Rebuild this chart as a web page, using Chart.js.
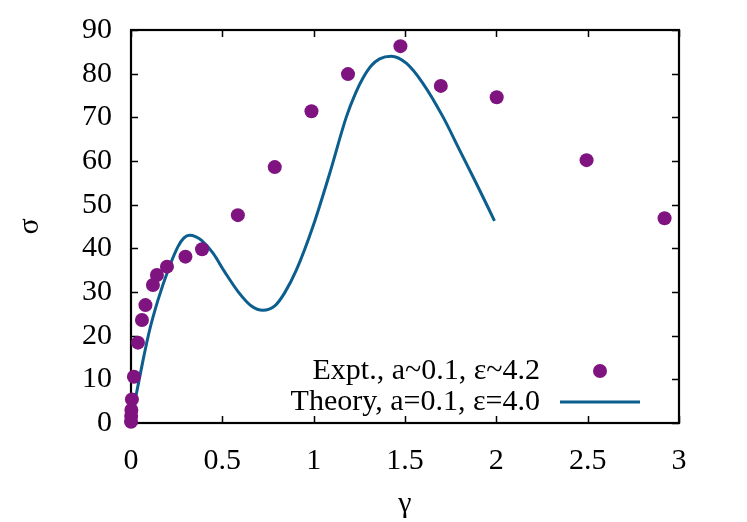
<!DOCTYPE html>
<html>
<head>
<meta charset="utf-8">
<script src="https://cdn.jsdelivr.net/npm/chart.js@4/dist/chart.umd.min.js"></script>
<style>
  html, body { margin: 0; padding: 0; background: #ffffff; }
  canvas { display: block; }
</style>
</head>
<body>
<canvas id="c" width="747" height="522"></canvas>
<script>
// ---- data ----
const exptGamma = [0, 0.001, 0.002, 0.005, 0.016, 0.038, 0.060, 0.079, 0.120, 0.142, 0.197, 0.298, 0.389, 0.585, 0.787, 0.988, 1.188, 1.475, 1.696, 2.002, 2.494, 2.921];
const exptSigma = [0.3, 1.6, 3.0, 5.4, 10.6, 18.4, 23.6, 27.0, 31.6, 33.9, 35.8, 38.1, 39.8, 47.6, 58.6, 71.4, 79.9, 86.3, 77.2, 74.6, 60.2, 46.9];

const theoryGamma = [0, 0.005, 0.030, 0.066, 0.102, 0.148, 0.203, 0.257, 0.290, 0.321, 0.353, 0.385, 0.449, 0.513, 0.586, 0.659, 0.722, 0.787, 0.841, 0.905, 0.996, 1.088, 1.179, 1.230, 1.270, 1.315, 1.361, 1.425, 1.507, 1.598, 1.708, 1.799, 1.890, 1.990];
const theorySigma = [0.5, 1.4, 6.8, 14.4, 21.3, 28.2, 35.0, 40.4, 42.4, 43.0, 42.7, 41.9, 38.9, 34.6, 30.1, 26.8, 25.8, 26.8, 29.8, 35.0, 45.0, 57.2, 70.1, 75.6, 79.0, 81.8, 83.4, 84.0, 82.4, 77.8, 70.1, 62.5, 54.9, 46.3];

const xTickLabels = ['0', '0.5', '1', '1.5', '2', '2.5', '3'];
const yTickLabels = ['0', '10', '20', '30', '40', '50', '60', '70', '80', '90'];

const seriesLabels = ['Expt., a~0.1, \u03b5~4.2', 'Theory, a=0.1, \u03b5=4.0'];
const xTitle = '\u03b3';
const yTitle = '\u03c3';

const FONT = 'Liberation Serif';
const FS = 30;
const PURPLE = '#7f137f';
const BLUE = '#0b5e8d';

const toXY = (xs, ys) => xs.map((x, i) => ({ x: x, y: ys[i] }));

const frameTicks = {
  id: 'frameTicks',
  beforeDatasetsDraw(chart) {
    const { ctx, chartArea: a, scales } = chart;
    ctx.save();
    ctx.strokeStyle = '#000';
    ctx.lineWidth = 1.5;
    const L = 7;
    ctx.beginPath();
    scales.x.ticks.forEach(t => {
      const px = Math.round(scales.x.getPixelForValue(t.value)) + 0.5;
      ctx.moveTo(px, a.bottom); ctx.lineTo(px, a.bottom - L);
      ctx.moveTo(px, a.top); ctx.lineTo(px, a.top + L);
    });
    scales.y.ticks.forEach(t => {
      const py = Math.round(scales.y.getPixelForValue(t.value)) + 0.5;
      ctx.moveTo(a.left, py); ctx.lineTo(a.left + L, py);
      ctx.moveTo(a.right, py); ctx.lineTo(a.right - L, py);
    });
    ctx.stroke();
    ctx.lineWidth = 2.2;
    ctx.strokeRect(a.left, a.top, a.right - a.left, a.bottom - a.top);
    ctx.restore();
  },
  afterDraw(chart) {
    // legend: text right-aligned, sample to the right (gnuplot style)
    const { ctx } = chart;
    const ds = chart.data.datasets;
    const textRight = 540;
    const rows = [371, 402];
    ctx.save();
    ctx.font = FS + 'px "' + FONT + '"';
    ctx.fillStyle = '#000';
    ctx.textAlign = 'right';
    ctx.textBaseline = 'middle';
    ds.forEach((d, i) => {
      ctx.fillText(d.label, textRight, rows[i]);
    });
    ctx.fillStyle = ds[0].backgroundColor;
    ctx.beginPath();
    ctx.arc(600, rows[0], ds[0].pointRadius, 0, Math.PI * 2);
    ctx.fill();
    ctx.strokeStyle = ds[1].borderColor;
    ctx.lineWidth = ds[1].borderWidth;
    ctx.beginPath();
    ctx.moveTo(560, rows[1]);
    ctx.lineTo(640, rows[1]);
    ctx.stroke();
    ctx.restore();
  }
};

new Chart(document.getElementById('c'), {
  type: 'scatter',
  data: {
    datasets: [
      {
        label: seriesLabels[0],
        data: toXY(exptGamma, exptSigma),
        backgroundColor: PURPLE,
        borderColor: PURPLE,
        borderWidth: 0,
        pointRadius: 7,
        pointHoverRadius: 7,
        showLine: false,
        clip: false,
        order: 0
      },
      {
        label: seriesLabels[1],
        data: toXY(theoryGamma, theorySigma),
        borderColor: BLUE,
        backgroundColor: BLUE,
        borderWidth: 3,
        pointRadius: 0,
        showLine: true,
        cubicInterpolationMode: 'monotone',
        fill: false,
        order: 1
      }
    ]
  },
  options: {
    responsive: false,
    devicePixelRatio: 1,
    animation: false,
    events: [],
    layout: { padding: { left: 0, right: 68, top: 30, bottom: 0 } },
    plugins: {
      legend: { display: false },
      tooltip: { enabled: false },
      title: { display: false }
    },
    scales: {
      x: {
        type: 'linear',
        min: 0, max: 3,
        afterFit: s => { s.height = 99; s.paddingLeft = 0; s.paddingRight = 0; },
        grid: { display: false, drawTicks: false },
        border: { display: false },
        ticks: {
          stepSize: 0.5,
          padding: 20,
          color: '#000',
          font: { family: FONT, size: FS },
          callback: (v, i) => xTickLabels[i]
        },
        title: {
          display: true,
          text: xTitle,
          color: '#000',
          font: { family: FONT, size: FS },
          padding: { top: 0, bottom: 0 }
        }
      },
      y: {
        type: 'linear',
        min: 0, max: 90,
        afterFit: s => { s.width = 131; s.paddingTop = 0; s.paddingBottom = 0; },
        grid: { display: false, drawTicks: false },
        border: { display: false },
        ticks: {
          stepSize: 10,
          padding: 19,
          color: '#000',
          font: { family: FONT, size: FS },
          callback: (v, i) => yTickLabels[i]
        },
        title: {
          display: true,
          text: yTitle,
          color: '#000',
          font: { family: FONT, size: FS },
          padding: { top: 12, bottom: 0 }
        }
      }
    }
  },
  plugins: [frameTicks]
});
</script>
</body>
</html>
